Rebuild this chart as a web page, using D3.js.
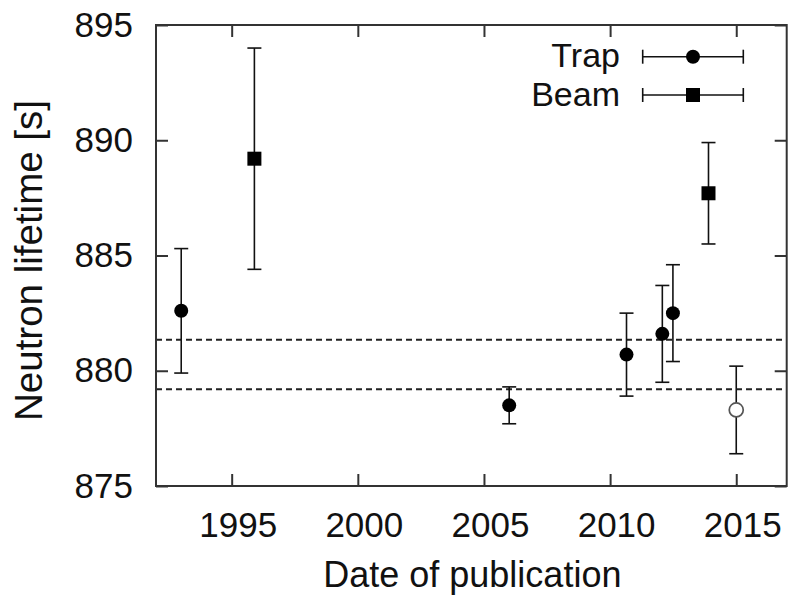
<!DOCTYPE html>
<html>
<head>
<meta charset="utf-8">
<script src="https://cdn.jsdelivr.net/npm/d3@7"></script>
<style>
  html, body { margin: 0; padding: 0; background: #fff; }
  svg { display: block; }
  text { font-family: "Liberation Sans", Arial, sans-serif; fill: #111; }
</style>
</head>
<body>
<svg id="chart" width="789" height="600"></svg>
<script>
// Neutron lifetime measurements by publication date
const trapYears  = [1993.0, 2006.0, 2010.65, 2012.07, 2012.49];
const trapValues = [882.6, 878.5, 880.7, 881.6, 882.5];
const trapErrors = [2.7, 0.8, 1.8, 2.1, 2.1];

const beamYears  = [1995.9, 2013.9];
const beamValues = [889.2, 887.7];
const beamErrors = [4.8, 2.2];

// newer trap result, drawn as an open circle
const openYears  = [2015.0];
const openValues = [878.3];
const openErrors = [1.9];

// reference band (dashed lines)
const bandLines = [881.35, 879.2];

const xTicks = [1995, 2000, 2005, 2010, 2015];
const yTicks = [875, 880, 885, 890, 895];
const legendLabels = ["Trap", "Beam"];

const margin = { left: 156, top: 25, right: 2.3, bottom: 114 };
const W = 789, H = 600;
const iw = W - margin.left - margin.right;
const ih = H - margin.top - margin.bottom;

const svg = d3.select("#chart");
const g = svg.append("g").attr("transform", `translate(${margin.left},${margin.top})`);

const x = d3.scaleLinear().domain([1992, 2017]).range([0, iw]);
const y = d3.scaleLinear().domain([875, 895]).range([ih, 0]);

const frameColor = "#333";
const tickLen = 12;

// dashed reference lines
g.selectAll("line.band").data(bandLines).enter().append("line")
  .attr("class", "band")
  .attr("x1", 0).attr("x2", iw)
  .attr("y1", d => y(d)).attr("y2", d => y(d))
  .attr("stroke", "#222").attr("stroke-width", 2)
  .attr("stroke-dasharray", "6,4");

// axes: ticks inward on all four sides, labels on bottom/left
const styleAxis = (sel) => {
  sel.select(".domain").remove();
  sel.selectAll(".tick line").attr("stroke", frameColor).attr("stroke-width", 2);
  sel.selectAll(".tick text").style("font-size", "35px").attr("fill", "#111");
};

const xAxisB = d3.axisBottom(x).tickValues(xTicks).tickFormat(d3.format("d"))
  .tickSizeInner(-tickLen).tickSizeOuter(0).tickPadding(26);
g.append("g").attr("transform", `translate(0,${ih})`).call(xAxisB).call(styleAxis)
  .selectAll(".tick text").attr("dy", "0.71em").attr("dx", "6");

const xAxisT = d3.axisTop(x).tickValues(xTicks).tickFormat("")
  .tickSizeInner(-tickLen).tickSizeOuter(0);
g.append("g").call(xAxisT).call(styleAxis);

const yAxisL = d3.axisLeft(y).tickValues(yTicks).tickFormat(d3.format("d"))
  .tickSizeInner(-tickLen).tickSizeOuter(0).tickPadding(23);
g.append("g").call(yAxisL).call(styleAxis);

const yAxisR = d3.axisRight(y).tickValues(yTicks).tickFormat("")
  .tickSizeInner(-tickLen).tickSizeOuter(0);
g.append("g").attr("transform", `translate(${iw},0)`).call(yAxisR).call(styleAxis);

// frame
g.append("rect").attr("x", 0).attr("y", 0).attr("width", iw).attr("height", ih)
  .attr("fill", "none").attr("stroke", frameColor).attr("stroke-width", 2);

// error bars
const capHalf = 7;
function errorBars(years, values, errors) {
  const eb = g.append("g").attr("stroke", "#111").attr("stroke-width", 1.6);
  years.forEach((yr, i) => {
    const cx = x(yr), lo = y(values[i] - errors[i]), hi = y(values[i] + errors[i]);
    eb.append("line").attr("x1", cx).attr("x2", cx).attr("y1", lo).attr("y2", hi);
    eb.append("line").attr("x1", cx - capHalf).attr("x2", cx + capHalf).attr("y1", lo).attr("y2", lo);
    eb.append("line").attr("x1", cx - capHalf).attr("x2", cx + capHalf).attr("y1", hi).attr("y2", hi);
  });
}
errorBars(trapYears, trapValues, trapErrors);
errorBars(beamYears, beamValues, beamErrors);
errorBars(openYears, openValues, openErrors);

// markers
const dotR = 7;
g.selectAll("circle.trap").data(trapYears).enter().append("circle")
  .attr("class", "trap")
  .attr("cx", d => x(d)).attr("cy", (d, i) => y(trapValues[i]))
  .attr("r", dotR).attr("fill", "#000");

const sq = 14;
g.selectAll("rect.beam").data(beamYears).enter().append("rect")
  .attr("class", "beam")
  .attr("x", d => x(d) - sq / 2).attr("y", (d, i) => y(beamValues[i]) - sq / 2)
  .attr("width", sq).attr("height", sq).attr("fill", "#000");

g.selectAll("circle.open").data(openYears).enter().append("circle")
  .attr("class", "open")
  .attr("cx", d => x(d)).attr("cy", (d, i) => y(openValues[i]))
  .attr("r", 7).attr("fill", "#fff").attr("stroke", "#555").attr("stroke-width", 1.7);

// legend
const legX1 = 642.7, legX2 = 743.3, legRowY = [56.7, 95];
const leg = svg.append("g");
legendLabels.forEach((lab, i) => {
  const ly = legRowY[i];
  leg.append("text").attr("x", 620).attr("y", ly + 10.5)
    .attr("text-anchor", "end").style("font-size", "34px").text(lab);
  const lg = leg.append("g").attr("stroke", "#111").attr("stroke-width", 1.6);
  lg.append("line").attr("x1", legX1).attr("x2", legX2).attr("y1", ly).attr("y2", ly);
  lg.append("line").attr("x1", legX1).attr("x2", legX1).attr("y1", ly - 7).attr("y2", ly + 7);
  lg.append("line").attr("x1", legX2).attr("x2", legX2).attr("y1", ly - 7).attr("y2", ly + 7);
  const mx = (legX1 + legX2) / 2;
  if (i === 0) {
    leg.append("circle").attr("cx", mx).attr("cy", ly).attr("r", dotR).attr("fill", "#000");
  } else {
    leg.append("rect").attr("x", mx - sq / 2).attr("y", ly - sq / 2)
      .attr("width", sq).attr("height", sq).attr("fill", "#000");
  }
});

// axis titles
svg.append("text").attr("x", margin.left + iw / 2 + 1).attr("y", 587)
  .attr("text-anchor", "middle").style("font-size", "36px").text("Date of publication");

svg.append("text")
  .attr("transform", `translate(42,260.5) rotate(-90)`)
  .attr("text-anchor", "middle").style("font-size", "38.5px").text("Neutron lifetime [s]");
</script>
</body>
</html>
